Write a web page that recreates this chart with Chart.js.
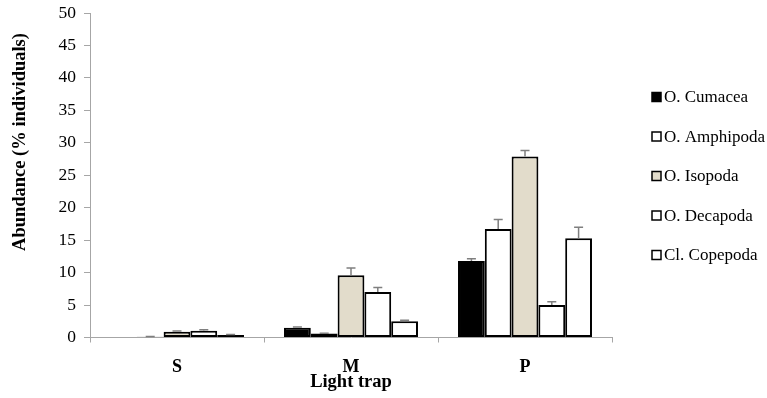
<!DOCTYPE html>
<html><head><meta charset="utf-8">
<script src="https://cdn.jsdelivr.net/npm/chart.js@4"></script>
<style>html,body{margin:0;padding:0;background:#fff}#wrap{width:767px;height:398px}</style>
</head><body><div id="wrap"><canvas id="c" width="767" height="398"></canvas></div>
<script>
const categories = ["S", "M", "P"];
const seriesNames = ["O. Cumacea", "O. Amphipoda", "O. Isopoda", "O. Decapoda", "Cl. Copepoda"];
const cumacea   = [0.0, 1.5, 11.8];
const amphipoda = [0.1, 0.6, 16.7];
const isopoda   = [0.9, 9.6, 27.9];
const decapoda  = [1.05, 7.0, 5.0];
const copepoda  = [0.4, 2.5, 15.3];
const errCumacea   = [0.0, 0.1, 0.35];
const errAmphipoda = [0.05, 0.05, 1.5];
const errIsopoda   = [0.1, 1.1, 0.9];
const errDecapoda  = [0.15, 0.7, 0.5];
const errCopepoda  = [0.05, 0.15, 1.7];
const yTicks = [0, 5, 10, 15, 20, 25, 30, 35, 40, 45, 50];
const yTitle = "Abundance (% individuals)";
const xTitle = "Light trap";

const values = [cumacea, amphipoda, isopoda, decapoda, copepoda];
const errors = [errCumacea, errAmphipoda, errIsopoda, errDecapoda, errCopepoda];
const fills = ["#000000", "#ffffff", "#e2dccb", "#ffffff", "#ffffff"];
const SERIF = "'Liberation Serif', 'Times New Roman', serif";

const datasets = seriesNames.map((n, i) => ({
  label: n,
  data: values[i],
  errors: errors[i],
  backgroundColor: fills[i],
  borderColor: "#000",
  borderWidth: 2,
  borderSkipped: false,
  categoryPercentage: 0.77,
  barPercentage: 1.0
}));

const extras = {
  id: "extras",
  afterDatasetsDraw(chart) {
    const ctx = chart.ctx, y = chart.scales.y;
    ctx.save();
    ctx.strokeStyle = "#7f7f7f";
    ctx.lineWidth = 1.5;
    chart.data.datasets.forEach((ds, di) => {
      const meta = chart.getDatasetMeta(di);
      meta.data.forEach((bar, i) => {
        const e = ds.errors[i];
        if (!e) return;
        const y0 = y.getPixelForValue(ds.data[i]);
        const y1 = y.getPixelForValue(ds.data[i] + e);
        ctx.beginPath();
        ctx.moveTo(bar.x, y0); ctx.lineTo(bar.x, y1);
        ctx.moveTo(bar.x - 4.5, y1); ctx.lineTo(bar.x + 4.5, y1);
        ctx.stroke();
      });
    });
    ctx.restore();
  },
  afterDraw(chart) {
    const ctx = chart.ctx, a = chart.chartArea;
    ctx.save();
    ctx.fillStyle = "#000";
    ctx.font = "bold 18.5px " + SERIF;
    ctx.textAlign = "center";
    ctx.textBaseline = "middle";
    ctx.fillText(xTitle, (a.left + a.right) / 2, 382);
    ctx.translate(20, 142);
    ctx.rotate(-Math.PI / 2);
    ctx.fillText(yTitle, 0, 0);
    ctx.restore();
    // legend
    ctx.save();
    ctx.font = "17px " + SERIF;
    ctx.textAlign = "left";
    ctx.textBaseline = "middle";
    chart.data.datasets.forEach((ds, i) => {
      const cy = 97 + i * 39.5;
      ctx.fillStyle = ds.backgroundColor;
      ctx.fillRect(652, cy - 4.5, 9, 9);
      ctx.strokeStyle = "#000";
      ctx.lineWidth = 1.5;
      ctx.strokeRect(652, cy - 4.5, 9, 9);
      ctx.fillStyle = "#000";
      ctx.fillText(ds.label, 664, cy + 1);
    });
    ctx.restore();
  }
};

new Chart(document.getElementById("c"), {
  type: "bar",
  data: { labels: categories, datasets },
  options: {
    responsive: false,
    animation: false,
    layout: { padding: { top: 0, right: 155, left: 0, bottom: 0 } },
    plugins: { legend: { display: false }, tooltip: { enabled: false } },
    scales: {
      x: {
        offset: true,
        grid: { display: true, offset: true, drawOnChartArea: false, tickLength: 5, color: "#a6a6a6", tickColor: "#a6a6a6" },
        border: { color: "#a6a6a6", width: 1 },
        ticks: { color: "#000", font: { family: SERIF, size: 18, weight: "bold" }, padding: 14 },
        afterFit(s) { s.height = 60.5; }
      },
      y: {
        min: 0, max: 50,
        afterBuildTicks(s) { s.ticks = yTicks.map(v => ({ value: v })); },
        grid: { display: true, drawOnChartArea: false, tickLength: 6, color: "#a6a6a6", tickColor: "#a6a6a6" },
        border: { color: "#a6a6a6", width: 1 },
        ticks: { color: "#000", font: { family: SERIF, size: 17.5 }, padding: 8 },
        afterFit(s) { s.width = 90; s.paddingTop = 13; }
      }
    }
  },
  plugins: [extras]
});
</script></body></html>
